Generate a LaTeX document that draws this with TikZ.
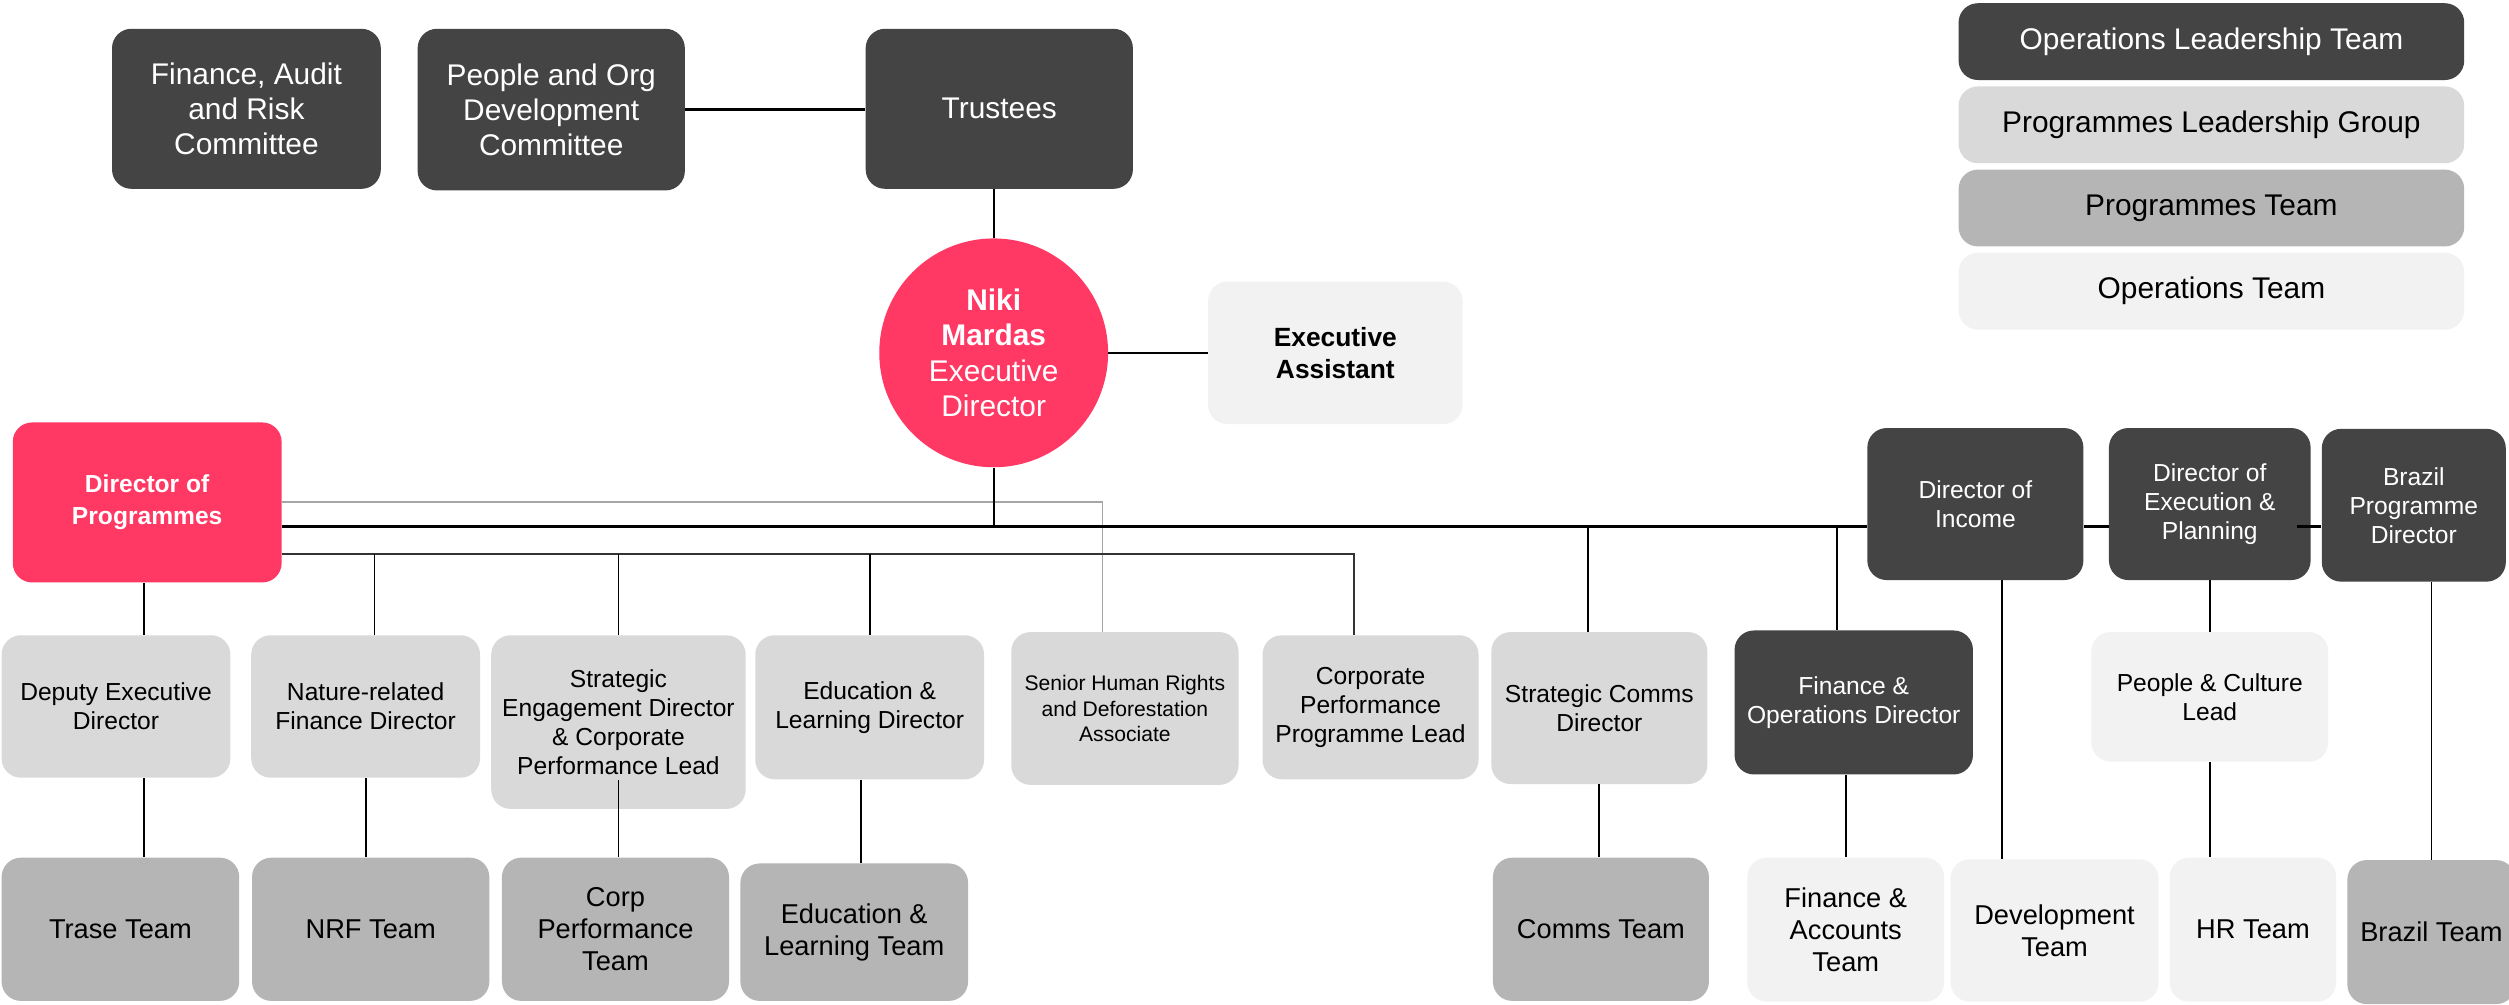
\documentclass[tikz,border=0pt]{standalone}
\usepackage{fontspec}
\setmainfont{Liberation Sans}
\usetikzlibrary{calc}
\definecolor{dk}{HTML}{444444}
\definecolor{pk}{HTML}{FF3864}
\definecolor{lg}{HTML}{D9D9D9}
\definecolor{mg}{HTML}{B5B5B5}
\definecolor{xl}{HTML}{F2F2F2}
\definecolor{gl}{HTML}{A6A6A6}
\definecolor{ln}{HTML}{333333}
\newcommand\szA{\fontsize{17}{20}\selectfont}
\newcommand\szB{\fontsize{14}{16.5}\selectfont}
\newcommand\szC{\fontsize{15.5}{18.2}\selectfont}
\newcommand\szD{\fontsize{12}{14.5}\selectfont}
\newcommand\szE{\fontsize{15}{18}\selectfont}
\newcommand\szF{\fontsize{14}{18}\selectfont}
\begin{document}
\begin{tikzpicture}[x=0.032cm,y=-0.032cm,
  bx/.style={rectangle, rounded corners=11pt, inner sep=0pt, align=center, draw=none},
  rr/.style args={#1:#2:#3:#4}{at={({(#1+#3)/2},{(#2+#4)/2})},
     minimum width={(#3-#1)*0.032cm}, minimum height={(#4-#2)*0.032cm}},
  dkbox/.style={bx, fill=dk, text=white},
  pkbox/.style={bx, fill=pk, text=white},
  lgbox/.style={bx, fill=lg, text=black},
  mgbox/.style={bx, fill=mg, text=black},
  xlbox/.style={bx, fill=xl, text=black},
  conn/.style={draw=black, line width=1pt},
  mainln/.style={draw=black, line width=1.5pt},
  secln/.style={draw=ln, line width=1.3pt},
  greyln/.style={draw=gl, line width=1.1pt}]
\useasboundingbox (0,0) rectangle (1568,628);
\fill[white] (0,0) rectangle (1568,628);

% top row
\node[dkbox, font=\szA, rr=70:18:238:118] (far) {Finance, Audit\\and Risk\\Committee};
\node[dkbox, font=\szA, rr=261:18:428:119] (pod) {People and Org\\Development\\Committee};
\node[dkbox, font=\szA, rr=541:18:708:118] (tru) {Trustees};
\node[circle, fill=pk, text=white, inner sep=0pt, minimum size=4.576cm, align=center, font=\szA] (ed) at (621,220.5) {\textbf{Niki}\\\textbf{Mardas}\\Executive\\Director};
\node[xlbox, font=\szE, rr=755:176:914:265] (ea) {\textbf{Executive}\\\textbf{Assistant}};

% legend
\node[dkbox, font=\szA, rr=1224:2:1540:50] (l1) {Operations Leadership Team};
\node[lgbox, font=\szA, rr=1224:54:1540:102] (l2) {Programmes Leadership Group};
\node[mgbox, font=\szA, rr=1224:106:1540:154] (l3) {Programmes Team};
\node[xlbox, font=\szA, rr=1224:158:1540:206] (l4) {Operations Team};

% level 2
\node[pkbox, font=\szF, rr=8:264:176:364] (dop) {\textbf{Director of}\\\textbf{Programmes}};
\node[dkbox, font=\szB, rr=1167:267.5:1302:362.5] (doi) {Director of\\Income};
\node[dkbox, font=\szB, rr=1318:267.5:1444:362.5] (dep) {Director of\\Execution \&\\Planning};
\node[dkbox, font=\szB, rr=1451:268:1566:363.5] (bpd) {Brazil\\Programme\\Director};

% level 3
\node[lgbox, font=\szB, rr=1:397:144:486] (ded) {Deputy Executive\\Director};
\node[lgbox, font=\szB, rr=157:397:300:486] (nrf) {Nature-related\\Finance Director};
\node[lgbox, font=\szB, rr=307:397:466:505.5] (sed) {Strategic\\Engagement Director\\\& Corporate\\Performance Lead};
\node[lgbox, font=\szB, rr=472:397:615:487] (eld) {Education \&\\Learning Director};
\node[lgbox, font=\szD, rr=632:395:774:490.5] (shr) {Senior Human Rights\\and Deforestation\\Associate};
\node[lgbox, font=\szB, rr=789:397:924:487] (cpl) {Corporate\\Performance\\Programme Lead};
\node[lgbox, font=\szB, rr=932:395:1067:490] (scd) {Strategic Comms\\Director};
\node[dkbox, font=\szB, rr=1084:394:1233:484] (fod) {Finance \&\\Operations Director};
\node[xlbox, font=\szB, rr=1307:395:1455:476] (pcl) {People \& Culture\\Lead};

% level 4
\node[mgbox, font=\szC, rr=1:536:149.5:625.5] (tra) {Trase Team};
\node[mgbox, font=\szC, rr=157.5:536:305.8:625.5] (nrft) {NRF Team};
\node[mgbox, font=\szC, rr=313.7:536:455.6:625.5] (cpt) {Corp\\Performance\\Team};
\node[mgbox, font=\szC, rr=462.7:539.6:605:625.5] (elt) {Education \&\\Learning Team};
\node[mgbox, font=\szC, rr=933:536:1068:625.5] (cmt) {Comms Team};
\node[xlbox, font=\szC, rr=1092:536:1215:626] (fat) {Finance \&\\Accounts\\Team};
\node[xlbox, font=\szC, rr=1219:537:1349:626] (dvt) {Development\\Team};
\node[xlbox, font=\szC, rr=1356:536:1460:626] (hrt) {HR Team};
\node[mgbox, font=\szC, rr=1467:537.5:1572:627.5] (brt) {Brazil Team};

% helper coordinates
\coordinate (hm) at (0,329);
\coordinate (hs) at (0,346);
\path ($(dop.south)+(-2,0)$) coordinate (dx1);
\path ($(nrf.north)+(5.5,0)$) coordinate (nrfx);
\path ($(cpl.north)+(-10.5,0)$) coordinate (cplx);
\path ($(shr.north)+(-14,0)$) coordinate (shrx);
\path ($(eld.south)+(-5.5,0)$) coordinate (eldx);
\path ($(sed.south)+(0,-18)$) coordinate (sedx);
\path ($(scd.north)+(-7,0)$) coordinate (scdx);
\path ($(fod.north)+(-10.5,0)$) coordinate (fodx);
\path ($(doi.south)+(16.5,0)$) coordinate (doix);
\path ($(dep.east)+(-9,0)$) coordinate (depx);

% connectors
\draw[mainln] (pod.east) -- (pod.east -| tru.west);
\draw[conn] (tru.south -| ed.north) -- (ed.north);
\draw[conn] (ed.east) -- (ea.west);

\draw[greyln] (dop.east) -| (shrx);
\draw[mainln] (dop.east |- hm) -- (doi.west |- hm);
\draw[conn] (ed.south) -- (ed.south |- hm);
\draw[mainln] (doi.east |- hm) -- (dep.west |- hm);
\draw[mainln] (depx |- hm) -- (bpd.west |- hm);

\draw[secln] (dop.east |- hs) -| (cplx);
\draw[conn] (nrfx |- hs) -- (nrfx);
\draw[conn] (sed.north |- hs) -- (sed.north);
\draw[conn] (eld.north |- hs) -- (eld.north);

\draw[conn] (dx1) -- (dx1 |- ded.north);
\draw[conn] (dx1 |- ded.south) -- (dx1 |- tra.north);
\draw[conn] (nrf.south) -- (nrf.south |- nrft.north);
\draw[conn] (sedx) -- (sedx |- cpt.north);
\draw[conn] (eldx) -- (eldx |- elt.north);

\draw[conn] (scdx |- hm) -- (scdx);
\draw[conn] (scd.south) -- (scd.south |- cmt.north);
\draw[conn] (fodx |- hm) -- (fodx);
\draw[conn] (fat.north |- fod.south) -- (fat.north);
\draw[conn] (doix) -- (doix |- dvt.north);
\draw[conn] (dep.south) -- (dep.south |- pcl.north);
\draw[conn] (pcl.south) -- (pcl.south |- hrt.north);
\draw[conn] (brt.north |- bpd.south) -- (brt.north);
\end{tikzpicture}
\end{document}
